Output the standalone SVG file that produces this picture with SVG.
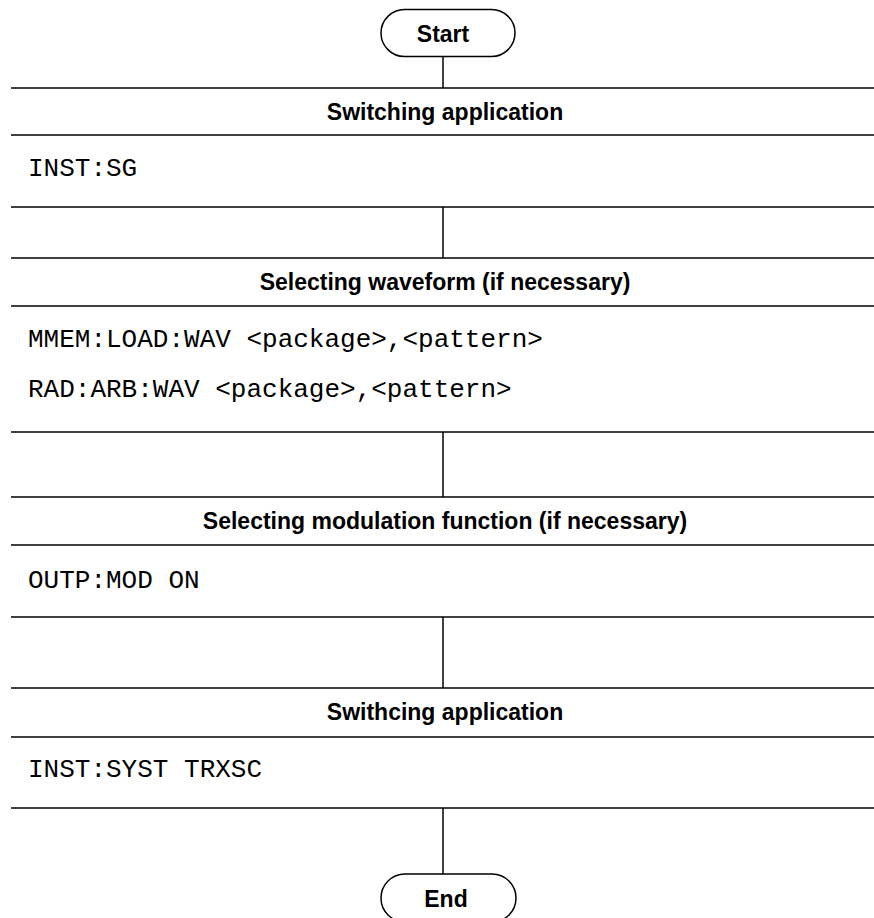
<svg xmlns="http://www.w3.org/2000/svg" width="874" height="918" viewBox="0 0 874 918">
  <style>
    .bg { fill: #ffffff; }
    .rule { stroke: #000000; stroke-width: 1.5; fill: none; }
    .pill { fill: #ffffff; stroke: #000000; stroke-width: 1.5; }
    .head { font-family: "Liberation Sans", Arial, sans-serif; font-weight: bold; font-size: 23px; fill: #000000; text-anchor: middle; }
    .code { font-family: "Liberation Mono", "Courier New", monospace; font-size: 26px; fill: #000000; }
  </style>
  <rect class="bg" x="0" y="0" width="874" height="918"/>

  <!-- connectors between the steps -->
  <g id="connectors">
    <line class="rule" x1="443" y1="56.5" x2="443" y2="88"/>
    <line class="rule" x1="443" y1="207" x2="443" y2="258"/>
    <line class="rule" x1="443" y1="432" x2="443" y2="497"/>
    <line class="rule" x1="443" y1="617" x2="443" y2="688"/>
    <line class="rule" x1="443" y1="808" x2="443" y2="874"/>
  </g>

  <g id="start">
    <rect class="pill" x="381" y="9.5" width="134" height="47" rx="23.5" ry="23.5"/>
    <text class="head" x="443" y="41.5">Start</text>
  </g>

  <g id="step-switch-sg">
    <line class="rule" x1="11" y1="88" x2="874" y2="88"/>
    <text class="head" x="445" y="119.5">Switching application</text>
    <line class="rule" x1="11" y1="135" x2="874" y2="135"/>
    <text class="code" x="28" y="176">INST:SG</text>
    <line class="rule" x1="11" y1="207" x2="874" y2="207"/>
  </g>

  <g id="step-waveform">
    <line class="rule" x1="11" y1="258" x2="874" y2="258"/>
    <text class="head" x="445" y="290">Selecting waveform (if necessary)</text>
    <line class="rule" x1="11" y1="306" x2="874" y2="306"/>
    <text class="code" x="28" y="347">MMEM:LOAD:WAV &lt;package&gt;,&lt;pattern&gt;</text>
    <text class="code" x="28" y="397">RAD:ARB:WAV &lt;package&gt;,&lt;pattern&gt;</text>
    <line class="rule" x1="11" y1="432" x2="874" y2="432"/>
  </g>

  <g id="step-modulation">
    <line class="rule" x1="11" y1="497" x2="874" y2="497"/>
    <text class="head" x="445" y="529">Selecting modulation function (if necessary)</text>
    <line class="rule" x1="11" y1="545" x2="874" y2="545"/>
    <text class="code" x="28" y="588">OUTP:MOD ON</text>
    <line class="rule" x1="11" y1="617" x2="874" y2="617"/>
  </g>

  <g id="step-switch-trxsc">
    <line class="rule" x1="11" y1="688" x2="874" y2="688"/>
    <text class="head" x="445" y="720">Swithcing application</text>
    <line class="rule" x1="11" y1="737" x2="874" y2="737"/>
    <text class="code" x="28" y="777">INST:SYST TRXSC</text>
    <line class="rule" x1="11" y1="808" x2="874" y2="808"/>
  </g>

  <g id="end">
    <rect class="pill" x="381" y="874" width="135" height="48" rx="24" ry="24"/>
    <text class="head" x="446" y="906.5">End</text>
  </g>
</svg>
